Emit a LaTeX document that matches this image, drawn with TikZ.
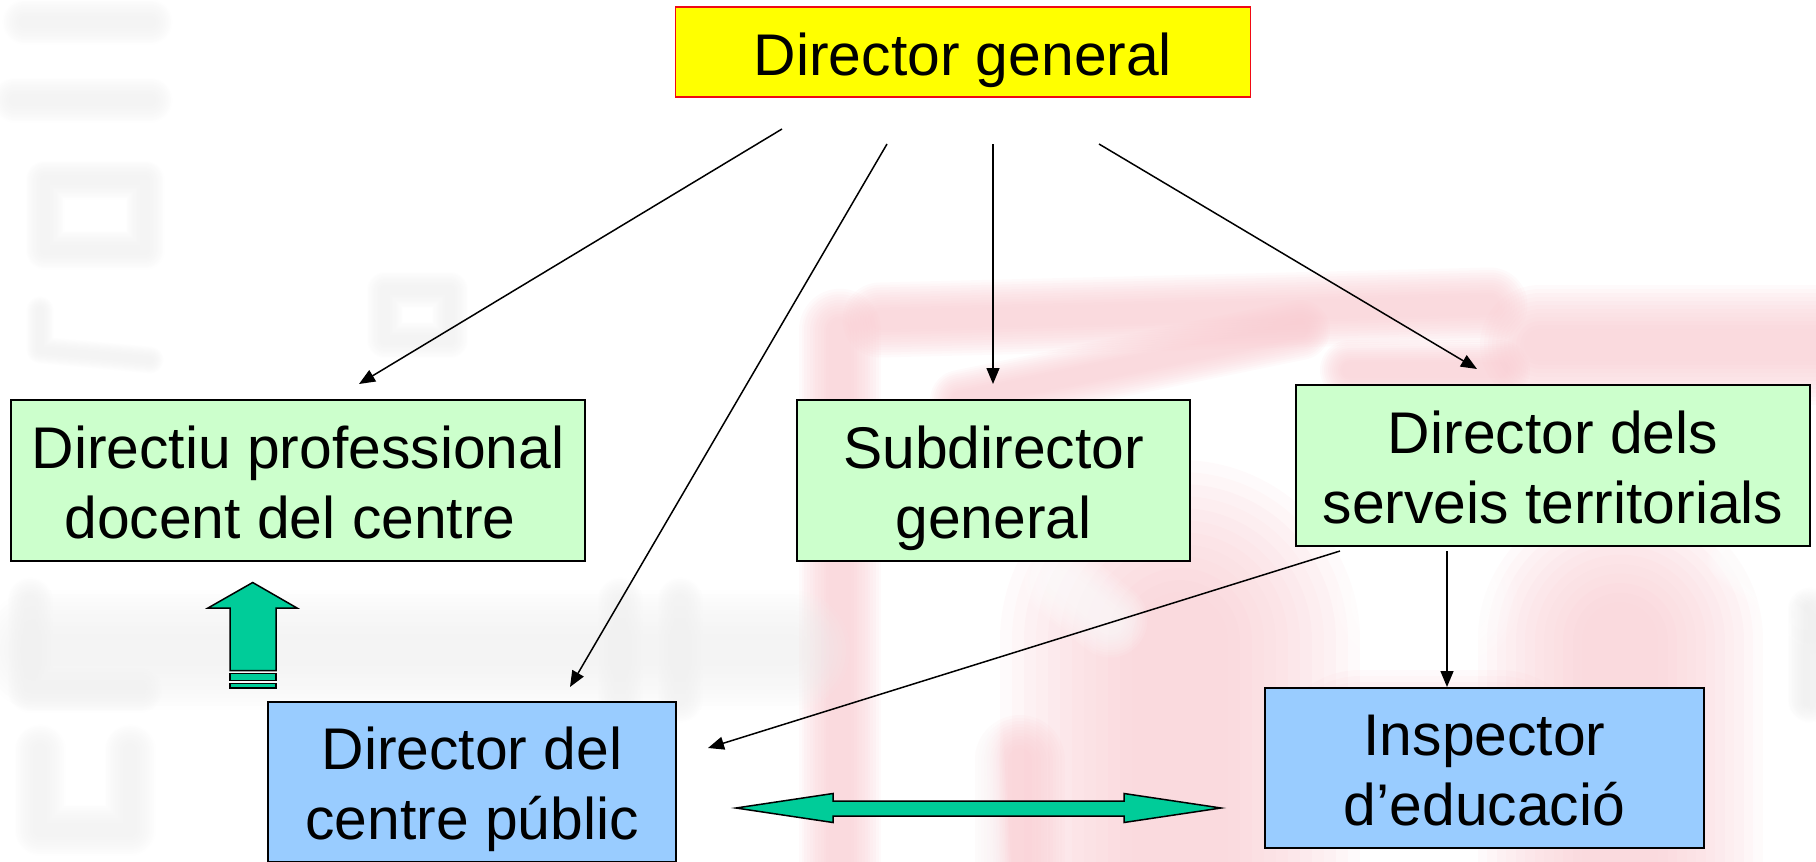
\documentclass[tikz,border=0pt]{standalone}
\usepackage{fontspec}
\setmainfont{Liberation Sans}
\usetikzlibrary{arrows.meta}
\definecolor{boxgreen}{HTML}{CCFFCC}
\definecolor{boxblue}{HTML}{99CCFF}
\definecolor{boxyellow}{HTML}{FFFF00}
\definecolor{boxred}{HTML}{F00A14}
\definecolor{arrowgreen}{HTML}{00CC99}
\definecolor{wmpink}{HTML}{F8C8CE}
\definecolor{wmgrey}{HTML}{EFEFEF}
\newcommand\topstr{\rule{0pt}{60pt}}
\newcommand\botstr{\rule[-15pt]{0pt}{15pt}}
\newcommand\blurstroke[3]{%
  \foreach \k in {1.5,1.4,1.3,1.2,1.1,1.0,0.9,0.8,0.7,0.6,0.5,0.4}{
    \draw[line cap=round,line join=round,draw=#1,opacity=0.09,line width=\k*#2 pt] #3;
  }}
\tikzset{
  x=1pt,y=-1pt,
  box/.style={draw=black,line width=1.6pt,inner sep=0pt,align=center,
    font=\fontsize{58.8}{70}\selectfont},
  conn/.style={draw=black,line width=1.5pt,-{Triangle[length=16pt,width=13pt]}},
  blockarrow/.style={draw=black,line width=1.5pt,fill=arrowgreen,line join=miter},
}
\begin{document}
\begin{tikzpicture}
\useasboundingbox (0,0) rectangle (1816,862);
\clip (0,0) rectangle (1816,862);
% watermark, pink
\blurstroke{wmpink}{55}{(840,330) -- (840,900)}
\blurstroke{wmpink}{50}{(880,320) -- (1490,305)}
\blurstroke{wmpink}{80}{(1540,345) -- (1860,345)}
\blurstroke{wmpink}{40}{(960,400) -- (1300,330)}
\blurstroke{wmpink}{40}{(1350,370) -- (1500,370)}
\blurstroke{wmpink}{240}{(1180,640) -- (1180,900)}
\blurstroke{wmpink}{190}{(1620,640) -- (1620,900)}
\blurstroke{wmpink}{120}{(1360,760) -- (1500,760)}
\blurstroke{wmpink}{60}{(1020,760) -- (1020,900)}
\blurstroke{white}{36}{(965,560) -- (985,880)}
\blurstroke{white}{50}{(1060,580) -- (1110,620)}
\blurstroke{white}{90}{(1400,600) -- (1450,600)}
\blurstroke{white}{30}{(1730,560) -- (1830,640)}
\blurstroke{white}{50}{(1790,620) -- (1790,880)}
% watermark, grey
\blurstroke{wmgrey}{30}{(25,22) -- (150,22)}
\blurstroke{wmgrey}{30}{(15,100) -- (150,100)}
\blurstroke{wmgrey}{26}{(45,180) -- (145,180) -- (145,250) -- (45,250) -- cycle}
\blurstroke{wmgrey}{18}{(40,310) -- (40,350) -- (150,360)}
\blurstroke{wmgrey}{24}{(385,290) -- (450,290) -- (450,340) -- (385,340) -- cycle}
\blurstroke{wmgrey}{80}{(40,650) -- (790,650)}
\blurstroke{wmgrey}{30}{(30,600) -- (30,690) -- (140,690)}
\blurstroke{wmgrey}{30}{(620,600) -- (620,700)}
\blurstroke{wmgrey}{30}{(680,600) -- (680,700)}
\blurstroke{wmgrey}{34}{(40,750) -- (40,830) -- (130,830) -- (130,750)}
\blurstroke{wmgrey}{30}{(1810,610) -- (1810,700)}
% boxes
\node[box,draw=boxred,fill=boxyellow,minimum width=575pt,minimum height=90pt] (dg) at (963,52)
  {\rule{0pt}{63pt}Director general\rule[-16pt]{0pt}{16pt}};
\node[box,fill=boxgreen,minimum width=574pt,minimum height=161pt] (dp) at (298,480.5)
  {\topstr Directiu professional\\docent del centre\hspace*{16pt}\botstr};
\node[box,fill=boxgreen,minimum width=393pt,minimum height=161pt] (sg) at (993.5,480.5)
  {\topstr Subdirector\\general\botstr};
\node[box,fill=boxgreen,minimum width=514pt,minimum height=161pt] (ds) at (1553,465.5)
  {\topstr Director dels\\serveis territorials\botstr};
\node[box,fill=boxblue,minimum width=408pt,minimum height=160pt] (dc) at (472,782)
  {\topstr Director del\\centre públic\botstr};
\node[box,fill=boxblue,minimum width=439pt,minimum height=160pt] (ie) at (1484.5,768)
  {\topstr Inspector\\d’educació\botstr};
% connector ends
\coordinate (a1s) at (782,129);  \coordinate (a1e) at (359,384);
\coordinate (a2s) at (887,144);  \coordinate (a2e) at (570,687);
\coordinate (a3s) at (993,144);  \coordinate (a3e) at (993,384);
\coordinate (a4s) at (1099,144); \coordinate (a4e) at (1477,369);
\coordinate (a5s) at (1340,551); \coordinate (a5e) at (708,748);
\coordinate (a6s) at (1447,551); \coordinate (a6e) at (1447,687);
\draw[conn] (a1s) -- (a1e);
\draw[conn] (a2s) -- (a2e);
\draw[conn] (a3s) -- (a3e);
\draw[conn] (a4s) -- (a4e);
\draw[conn] (a5s) -- (a5e);
\draw[conn] (a6s) -- (a6e);
% up arrow
\draw[blockarrow] (252.7,582.5) -- (297,608) -- (276,608) -- (276,670.7) -- (230,670.7) -- (230,608) -- (208,608) -- cycle;
\draw[blockarrow] (230,673.7) rectangle (276,680.7);
\draw[blockarrow] (230,683.3) rectangle (276,688);
% double arrow
\draw[blockarrow] (736,808) -- (833,793.5) -- (833,801) -- (1124,801) -- (1124,793.5) -- (1221,808) -- (1124,822.5) -- (1124,816) -- (833,816) -- (833,822.5) -- cycle;
\end{tikzpicture}
\end{document}
